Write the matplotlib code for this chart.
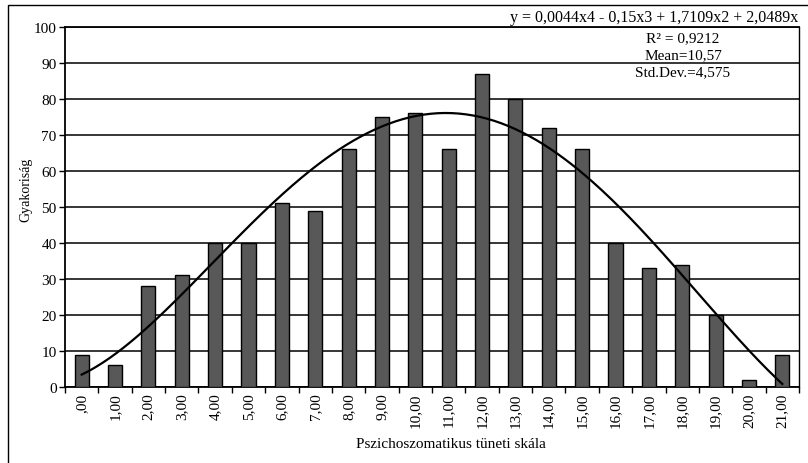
import numpy as np
import matplotlib.pyplot as plt
from matplotlib.patches import Rectangle

# score categories of the symptom scale and their frequencies
scores = list(range(22))
tick_labels = [",00"] + [f"{s},00" for s in scores[1:]]
counts = [9, 6, 28, 31, 40, 40, 51, 49, 66, 75, 76, 66, 87, 80, 72, 66, 40, 33, 34, 20, 2, 9]
# polynomial trendline value at each category
trend = [3.4, 9.2, 17, 25.4, 34.7, 45, 54.5, 60.6, 67, 72.2, 75.4, 76, 75.2, 72.2, 67, 58.7,
         50, 41.6, 31.9, 20.3, 10.1, 0.8]

equation = "y = 0,0044x4 - 0,15x3 + 1,7109x2 + 2,0489x"
stats = ["R² = 0,9212", "Mean=10,57", "Std.Dev.=4,575"]

plt.rcParams["font.family"] = ["Liberation Serif", "DejaVu Serif"]
plt.rcParams["font.size"] = 11

W, H = 808, 464
fig = plt.figure(figsize=(W / 100, H / 100), dpi=100)
ax = fig.add_axes([65 / W, 1 - 388 / H, (799 - 65) / W, (388 - 28) / H])

# outer chart frame (open at right and bottom edges)
fig.patches.append(Rectangle((8 / W, -0.1), 1.2, 1 - 6 / H + 0.1, transform=fig.transFigure,
                             fill=False, edgecolor="black", linewidth=1.0))

ax.bar(scores, counts, width=0.42, color="#585858", edgecolor="black", linewidth=1.0, zorder=3)

# smooth 4th order curve through the trendline values
coef = np.polyfit(scores, trend, 4)
xs = np.linspace(scores[0], scores[-1], 300)
ax.plot(xs, np.polyval(coef, xs), color="black", linewidth=1.6, zorder=4)

ax.set_xlim(-0.5, 21.5)
ax.set_ylim(0, 100)
ax.set_yticks(range(0, 101, 10))
ax.yaxis.grid(True, color="black", linewidth=1.1)
ax.set_axisbelow(True)

ax.set_xticks(scores)
ax.set_xticklabels(tick_labels, rotation=90)
ax.set_xticks(np.arange(-0.5, 22, 1), minor=True)
ax.tick_params(axis="x", which="major", length=0, pad=4)
ax.tick_params(axis="x", which="minor", length=4, width=1, direction="out")
ax.tick_params(axis="y", length=4, width=1, pad=2)

for side in ["left", "bottom", "top"]:
    ax.spines[side].set_linewidth(1.3)
ax.spines["right"].set_linewidth(1.0)

ax.set_ylabel("Gyakoriság", fontsize=10)
ax.yaxis.set_label_coords(-0.044, 0.55)
ax.set_xlabel("Pszichoszomatikus tüneti skála")
ax.xaxis.set_label_coords(0.526, -0.138)

fig.text(798 / W, 1 - 18 / H, equation, ha="right", va="center", fontsize=11.5)
for i, s in enumerate(stats):
    fig.text(683 / W, 1 - (39 + 17 * i) / H, s, ha="center", va="center")

fig.savefig("out.png", dpi=100)
